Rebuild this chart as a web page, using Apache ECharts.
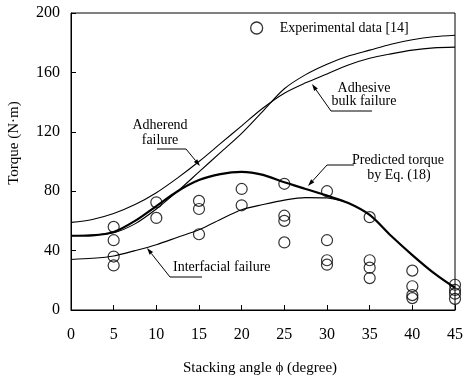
<!DOCTYPE html>
<html><head><meta charset="utf-8">
<script src="https://cdn.jsdelivr.net/npm/echarts@6/dist/echarts.min.js"></script>
<style>html,body{margin:0;padding:0;background:#fff}#c{width:466px;height:381px}</style>
</head><body><div id="c"></div>
<script>
// ---- data ----
const angles = [0, 2.5, 5, 7.5, 10, 12.5, 15, 17.5, 20, 22.5, 25, 27.5, 30, 32.5, 35, 37.5, 40, 42.5, 45];
const adhesiveBulk = [59, 61, 65, 71, 79, 89, 100, 112, 124, 136, 146, 153, 159, 165, 169.5, 172.5, 175, 176.5, 177];
const adherend = [50, 50.5, 52, 58, 68, 80, 93, 106, 119, 134, 149, 158.5, 165.5, 171, 175, 179, 182, 184, 185];
const predicted = [50, 50.3, 52.5, 60, 70, 80, 87.5, 91.5, 93, 91, 86, 81.5, 77, 72, 64, 50, 37, 25, 15];
const interfacialAngles = [0, 2.5, 5, 7.5, 10, 12.5, 15, 17.5, 20, 22.5, 25, 27.5, 30, 32.5];
const interfacial = [34, 34.8, 36.4, 40, 44, 49, 54, 61, 67.5, 71, 74, 75.7, 75.5, 72];
const expAngle = [5, 5, 5, 5, 10, 10, 15, 15, 15, 20, 20, 25, 25, 25, 25, 30, 30, 30, 30, 35, 35, 35, 35, 40, 40, 40, 40, 45, 45, 45, 45];
const expTorque = [56, 47, 36, 30, 72.5, 62, 73.5, 68, 51, 81.5, 70.5, 85, 63.5, 60, 45.5, 80, 47, 33.5, 30.5, 62.5, 33.5, 28.5, 21.5, 26.5, 16, 10, 8, 17, 13.5, 11, 7.5];
const xTicks = [0, 5, 10, 15, 20, 25, 30, 35, 40, 45];
const yTicks = [0, 40, 80, 120, 160, 200];

const F = '"Liberation Serif", "Times New Roman", serif';
function pairs(xs, ys) { return ys.map((y, i) => [xs[i], y]); }
function arrow(x1, y1, x2, y2) {
  const dx = x2 - x1, dy = y2 - y1, L = Math.hypot(dx, dy), ux = dx / L, uy = dy / L;
  const len = 7, hw = 2.2, bx = x2 - ux * len, by = y2 - uy * len;
  return [
    { type: 'line', shape: { x1: x1, y1: y1, x2: bx, y2: by }, style: { stroke: '#000', lineWidth: 1 } },
    { type: 'polygon', shape: { points: [[x2, y2], [bx - uy * hw, by + ux * hw], [bx + uy * hw, by - ux * hw]] }, style: { fill: '#000' } }
  ];
}
function seg(x1, y1, x2, y2) { return { type: 'line', shape: { x1, y1, x2, y2 }, style: { stroke: '#000', lineWidth: 1 } }; }
function txt(x, y, s, align, size) {
  return { type: 'text', x: x, y: y, style: { text: s, font: (size || 14) + 'px ' + F, fill: '#000', textAlign: align || 'center', textVerticalAlign: 'middle' } };
}

const lineStyle = (w) => ({ color: '#000', width: w });
const chart = echarts.init(document.getElementById('c'));
const graphics = [].concat(
  [txt(160, 125, 'Adherend'), txt(160, 140, 'failure'), seg(157, 149, 186, 149)], arrow(186, 149, 200, 166),
  [txt(364, 88, 'Adhesive'), txt(364, 101, 'bulk failure'), seg(331, 111, 372, 111)], arrow(331, 111, 312, 84),
  [txt(398, 160.5, 'Predicted torque'), txt(399, 175.5, 'by Eq. (18)'), seg(327, 165, 354, 165)], arrow(327, 165, 308, 186),
  [txt(173, 267, 'Interfacial failure', 'left'), seg(170, 277, 202, 277)], arrow(170, 277, 147, 248),
  [{ type: 'text', x: 14, y: 143, rotation: Math.PI / 2, style: { text: 'Torque (N·m)', font: '15px ' + F, fill: '#000', textAlign: 'center', textVerticalAlign: 'middle' } },
   txt(260, 368, 'Stacking angle ϕ (degree)', 'center', 15)]
);

chart.setOption({
  animation: false,
  backgroundColor: '#fff',
  grid: { left: 71, right: 8, top: 13, bottom: 71, show: true, borderColor: '#000', borderWidth: 1 },
  legend: {
    data: ['Experimental data [14]'], left: 250, top: 21, padding: 0,
    itemWidth: 12, itemHeight: 12, icon: 'circle',
    itemStyle: { color: '#fff', borderColor: '#000', borderWidth: 1.3 },
    textStyle: { fontFamily: F, fontSize: 14, color: '#000', padding: [0, 0, 0, 12] }
  },
  xAxis: {
    type: 'value', min: 0, max: 45, interval: 5,
    axisLine: { lineStyle: { color: '#000' } },
    axisTick: { inside: true, length: 5, lineStyle: { color: '#000' } },
    axisLabel: { margin: 17, fontFamily: F, fontSize: 16, color: '#000', formatter: v => xTicks.includes(v) ? String(v) : '' },
    splitLine: { show: false }
  },
  yAxis: {
    type: 'value', min: 0, max: 200, interval: 40,
    axisLine: { show: true, lineStyle: { color: '#000' } },
    axisTick: { show: true, inside: true, length: 5, lineStyle: { color: '#000' } },
    axisLabel: { margin: 11, fontFamily: F, fontSize: 16, color: '#000', formatter: v => yTicks.includes(v) ? String(v) : '' },
    splitLine: { show: false }
  },
  graphic: graphics,
  series: [
    { name: 'Adhesive bulk failure', type: 'line', smooth: 0.3, symbol: 'none', data: pairs(angles, adhesiveBulk), lineStyle: lineStyle(1.1) },
    { name: 'Adherend failure', type: 'line', smooth: 0.3, symbol: 'none', data: pairs(angles, adherend), lineStyle: lineStyle(1.1) },
    { name: 'Interfacial failure', type: 'line', smooth: 0.3, symbol: 'none', data: pairs(interfacialAngles, interfacial), lineStyle: lineStyle(1.1) },
    { name: 'Predicted torque by Eq. (18)', type: 'line', smooth: 0.3, symbol: 'none', data: pairs(angles, predicted), lineStyle: lineStyle(2.2) },
    { name: 'Experimental data [14]', type: 'scatter', symbol: 'circle', symbolSize: 11, data: pairs(expAngle, expTorque),
      itemStyle: { color: 'rgba(255,255,255,0)', borderColor: '#000', borderWidth: 1.2 }, z: 5 }
  ]
});
</script></body></html>
